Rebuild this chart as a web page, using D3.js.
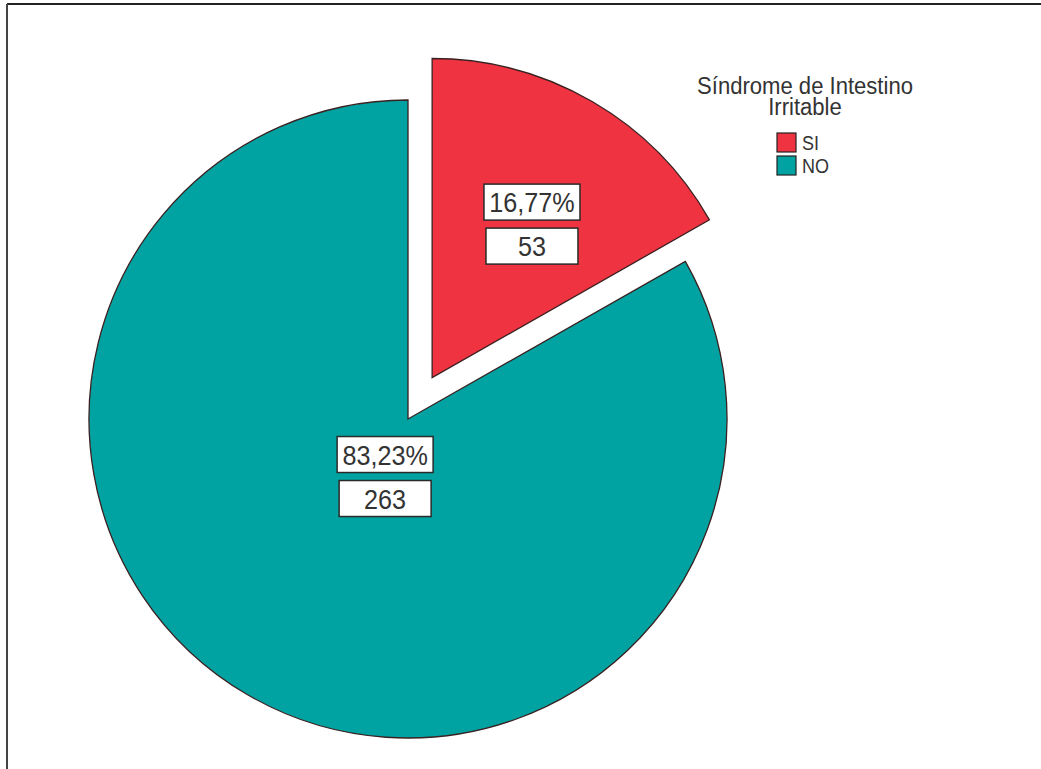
<!DOCTYPE html>
<html lang="es">
<head>
<meta charset="UTF-8">
<title>Síndrome de Intestino Irritable</title>
<script src="https://d3js.org/d3.v7.min.js"></script>
<style>
  body { margin: 0; background: #fff; }
  svg text { font-family: Arial, "Liberation Sans", sans-serif; fill: #333; }
</style>
</head>
<body>
<div id="chart"></div>
<script>
// Data
const categories = ["SI", "NO"];
const counts = [53, 263];
const percentLabels = ["16,77%", "83,23%"];
const colors = ["#ef3340", "#00a3a1"];
const legendTitle = ["Síndrome de Intestino", "Irritable"];

const width = 1041, height = 769;
const cx = 408, cy = 419, radius = 319;
const explode = 48;

const svg = d3.select("#chart").append("svg")
    .attr("width", width)
    .attr("height", height);

// frame (only top and left edges are visible)
svg.append("line").attr("x1", 7).attr("x2", width).attr("y1", 4).attr("y2", 4)
    .attr("stroke", "#222").attr("stroke-width", 2);
svg.append("line").attr("x1", 7).attr("x2", 7).attr("y1", 4).attr("y2", height)
    .attr("stroke", "#444").attr("stroke-width", 2);

const data = categories.map((c, i) => ({ cat: c, n: counts[i], pct: percentLabels[i], color: colors[i] }));

const pie = d3.pie().value(d => d.n).sort(null);
const arc = d3.arc().innerRadius(0).outerRadius(radius);
const arcs = pie(data);

// label distance from slice apex (fraction of radius), as in the reference
const labelR = [0.56, 0.205];

const g = svg.append("g").attr("transform", `translate(${cx},${cy})`);

const slice = g.selectAll("g.slice")
    .data(arcs)
    .join("g")
    .attr("class", "slice")
    .attr("transform", (d, i) => {
        if (i !== 0) return null;
        const a = (d.startAngle + d.endAngle) / 2;
        return `translate(${Math.sin(a) * explode},${-Math.cos(a) * explode})`;
    });

slice.append("path")
    .attr("d", arc)
    .attr("fill", d => d.data.color)
    .attr("stroke", "#3a2020")
    .attr("stroke-width", 1.3);

// value boxes
slice.each(function (d, i) {
    const a = (d.startAngle + d.endAngle) / 2;
    const r = radius * labelR[i];
    const lx = Math.sin(a) * r + 10, ly = -Math.cos(a) * r;
    const sel = d3.select(this);
    const boxes = [
        { text: d.data.pct, y: ly - 21, w: 96 },
        { text: String(d.data.n), y: ly + 23, w: 92 }
    ];
    boxes.forEach(b => {
        sel.append("rect")
            .attr("x", lx - b.w / 2)
            .attr("y", b.y - 18)
            .attr("width", b.w)
            .attr("height", 36)
            .attr("fill", "#fff")
            .attr("stroke", "#2a2a2a")
            .attr("stroke-width", 1.5);
        sel.append("text")
            .attr("transform", `translate(${lx},${b.y + 10}) scale(0.9,1)`)
            .attr("text-anchor", "middle")
            .attr("font-size", 28)
            .text(b.text);
    });
});

// legend
const legend = svg.append("g");
legendTitle.forEach((t, i) => {
    legend.append("text")
        .attr("transform", `translate(805,${94 + i * 21}) scale(0.96,1)`)
        .attr("text-anchor", "middle")
        .attr("font-size", 23)
        .text(t);
});

const item = legend.selectAll("g.item")
    .data(data)
    .join("g")
    .attr("class", "item")
    .attr("transform", (d, i) => `translate(777,${133 + i * 23})`);

item.append("rect")
    .attr("width", 19)
    .attr("height", 19)
    .attr("fill", d => d.color)
    .attr("stroke", "#222")
    .attr("stroke-width", 1.2);

item.append("text")
    .attr("transform", "translate(25,17) scale(0.9,1)")
    .attr("font-size", 20)
    .text(d => d.cat);
</script>
</body>
</html>
